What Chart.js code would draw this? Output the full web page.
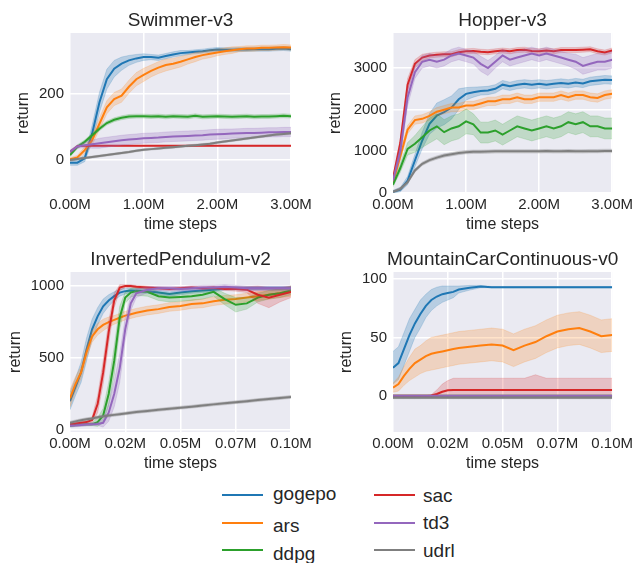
<!DOCTYPE html>
<html lang="en">
<head>
  <meta charset="UTF-8">
  <title>Learning curves</title>
  <script src="https://cdn.jsdelivr.net/npm/chart.js"></script>
  <style>
    body { margin: 0; background: #fff; width: 636px; height: 563px; position: relative; overflow: hidden;
           font-family: "Liberation Sans", Arial, sans-serif; color: #262626; }
    .plot { position: absolute; }
    .key-line { position: absolute; height: 2px; }
    .key-text { position: absolute; font-size: 19px; line-height: 19px; white-space: nowrap; }
  </style>
</head>
<body>
  <div class="plot" style="left:0;top:0"><canvas id="swimmer" width="318" height="240"></canvas></div>
  <div class="plot" style="left:318px;top:0"><canvas id="hopper" width="318" height="240"></canvas></div>
  <div class="plot" style="left:0;top:239px"><canvas id="pendulum" width="318" height="240"></canvas></div>
  <div class="plot" style="left:318px;top:239px"><canvas id="mountain" width="318" height="240"></canvas></div>
  <div id="legend"></div>

<script>
// x positions (million steps)
const stepsLong = [0, 0.1, 0.2, 0.3, 0.4, 0.5, 0.6, 0.7, 0.8, 0.9, 1.0, 1.1, 1.2, 1.3, 1.4, 1.5,
                   1.6, 1.7, 1.8, 1.9, 2.0, 2.1, 2.2, 2.3, 2.4, 2.5, 2.6, 2.7, 2.8, 2.9, 3.0];
const stepsShort = [0, 0.0025, 0.005, 0.0075, 0.01, 0.0125, 0.015, 0.0175, 0.02, 0.0225, 0.025, 0.0275,
                    0.03, 0.035, 0.04, 0.045, 0.05, 0.055, 0.06, 0.065, 0.07, 0.075, 0.08, 0.085, 0.09, 0.095, 0.1];

const longTicks = [0, 1, 2, 3];
const longTickLabels = ['0.00M', '1.00M', '2.00M', '3.00M'];
const shortTicks = [0, 0.025, 0.05, 0.075, 0.1];
const shortTickLabels = ['0.00M', '0.02M', '0.05M', '0.07M', '0.10M'];

const names = ['gogepo', 'ars', 'ddpg', 'sac', 'td3', 'udrl'];
const colors = ['#1f77b4', '#ff7f0e', '#2ca02c', '#d62728', '#9467bd', '#7f7f7f'];
const bandColors = ['rgba(31,119,180,0.25)', 'rgba(255,127,14,0.22)', 'rgba(44,160,44,0.22)',
                    'rgba(214,39,40,0.22)', 'rgba(148,103,189,0.25)', 'rgba(127,127,127,0.3)'];

// Swimmer-v3
const swimGogepo = [-8,-8,5,80,175,245,277,292,302,308,312,312,310,315,320,324,326,328,330,333,335,334,334,335,335,336,336,336,337,338,336];
const swimGogepoBand = [8,8,10,25,30,30,25,20,15,12,10,8,8,8,8,8,6,6,6,6,6,6,6,6,6,6,6,6,6,6,6];
const swimArs = [2,8,30,60,110,160,185,195,222,245,258,270,280,288,292,298,305,312,318,322,326,330,333,336,338,338,340,340,341,342,341];
const swimArsBand = [5,6,10,15,18,20,20,20,20,20,20,18,18,18,16,16,14,14,12,12,10,10,10,8,8,8,8,8,8,8,8];
const swimDdpg = [15,40,55,75,95,112,122,128,132,133,133,132,133,131,133,132,131,134,131,132,133,132,131,132,133,131,132,132,133,134,133];
const swimDdpgBand = [5,6,6,6,6,6,6,6,6,6,6,6,6,6,6,6,6,6,6,6,6,6,6,6,6,6,6,6,6,6,6];
const swimSac = [25,42,43,43,43,43,43,43,43,43,43,43,43,43,43,43,43,43,43,43,43,43,43,43,43,43,43,43,43,43,43];
const swimSacBand = [1,1,1,1,1,1,1,1,1,1,1,1,1,1,1,1,1,1,1,1,1,1,1,1,1,1,1,1,1,1,1];
const swimTd3 = [25,41,45,48,51,54,57,60,62,64,66,67,68,70,71,72,73,74,75,77,78,79,80,81,82,82,83,84,84,85,85];
const swimTd3Band = [5,5,8,12,15,15,15,15,15,15,15,15,15,15,15,15,15,15,15,15,15,15,14,14,14,14,14,14,14,14,14];
const swimUdrl = [0,3,6,9,12,15,18,21,24,28,31,33,35,37,39,41,43,45,47,49,53,56,59,62,65,68,71,74,77,79,81];
const swimUdrlBand = [3,3,3,3,3,3,3,3,3,3,3,3,3,3,3,3,3,3,3,3,3,3,3,3,3,3,3,3,3,3,3];

// Hopper-v3
const hopGogepo = [30,80,300,780,1260,1660,1860,1940,2050,2250,2380,2420,2450,2460,2500,2600,2560,2600,2620,2600,2620,2600,2620,2640,2620,2650,2630,2680,2700,2720,2710];
const hopGogepoBand = [30,50,100,150,200,250,300,300,280,250,150,120,100,100,100,100,100,100,100,100,100,100,100,100,100,100,100,100,100,100,100];
const hopArs = [250,880,1520,1750,1780,1850,1950,2000,2050,2050,2100,2100,2150,2200,2200,2250,2250,2300,2250,2250,2300,2300,2300,2350,2300,2350,2350,2300,2280,2350,2380];
const hopArsBand = [50,100,100,100,100,100,100,100,100,100,100,100,100,100,100,100,100,100,100,100,100,100,100,100,100,100,100,100,100,100,100];
const hopDdpg = [200,600,1060,1180,1340,1500,1600,1460,1550,1600,1720,1650,1450,1450,1500,1400,1500,1600,1550,1500,1550,1600,1550,1600,1700,1650,1700,1600,1600,1550,1550];
const hopDdpgBand = [50,100,150,200,250,300,300,300,300,300,300,250,250,250,250,250,250,250,250,250,250,250,250,250,250,250,250,250,250,250,250];
const hopSac = [350,1200,2600,3100,3250,3300,3320,3330,3330,3380,3400,3410,3390,3380,3400,3420,3400,3430,3440,3410,3400,3420,3400,3430,3430,3430,3440,3450,3400,3370,3420];
const hopSacBand = [50,100,150,100,80,60,60,60,60,60,60,60,60,60,60,60,60,60,60,60,60,60,60,60,60,60,60,60,60,60,60];
const hopTd3 = [300,1000,2300,2900,3150,3200,3150,3200,3300,3350,3300,3250,3100,3000,3150,3300,3200,3250,3300,3350,3300,3350,3300,3250,3200,3150,3050,3100,3150,3150,3200];
const hopTd3Band = [50,150,200,150,150,150,150,150,150,150,150,150,180,180,150,150,150,150,150,150,150,150,150,150,150,180,200,200,200,200,200];
const hopUdrl = [30,100,260,540,700,790,850,900,930,960,980,990,990,995,1000,1000,1000,1000,1000,1000,1000,1005,1000,1000,1005,1000,1000,1005,1005,1010,1010];
const hopUdrlBand = [30,40,40,40,40,40,40,40,40,40,40,40,40,40,40,40,40,40,40,40,40,40,40,40,40,40,40,40,40,40,40];

// InvertedPendulum-v2
const penGogepo = [200,300,400,560,700,790,860,900,930,955,965,970,968,965,955,945,955,965,970,975,985,985,985,985,985,985,985];
const penGogepoBand = [60,60,70,80,70,60,50,40,30,25,20,15,15,15,15,15,15,15,15,15,12,12,12,12,12,12,12];
const penArs = [220,320,400,540,650,700,730,750,765,780,795,805,815,830,840,855,862,875,880,895,905,910,920,930,940,950,960];
const penArsBand = [60,50,40,40,40,40,40,35,30,30,30,30,30,30,30,30,30,30,30,30,30,30,30,30,30,30,30];
const penDdpg = [30,35,38,40,40,55,100,250,480,780,920,955,965,960,930,920,925,930,940,960,910,870,880,920,940,950,970];
const penDdpgBand = [10,10,10,10,10,30,50,80,100,80,40,30,30,30,30,30,30,30,30,30,40,50,40,30,30,30,30];
const penSac = [40,45,50,55,70,180,400,680,900,990,1000,1000,995,990,985,980,985,990,985,990,980,980,975,940,920,940,960];
const penSacBand = [10,10,10,10,20,60,80,80,50,20,10,10,10,10,10,10,10,10,10,10,10,15,20,60,70,50,40];
const penTd3 = [30,32,35,38,40,42,50,120,250,430,700,880,950,975,985,985,980,985,990,990,995,990,985,985,985,985,985];
const penTd3Band = [10,10,10,10,10,10,30,60,90,100,80,50,30,20,15,15,15,15,15,15,15,15,15,15,15,15,15];
const penUdrl = [50,60,68,75,80,88,95,100,105,110,115,120,125,132,140,148,155,162,170,178,185,193,200,208,215,222,230];
const penUdrlBand = [10,10,10,10,10,10,10,10,10,10,10,10,10,10,10,10,10,10,10,10,10,10,10,10,10,10,10];

// MountainCarContinuous-v0
const carGogepo = [24,28,40,52,62,70,77,82,85,87,88,89,91,92.5,93.5,93,93,93,93,93,93,93,93,93,93,93,93];
const carGogepoBand = [14,14,14,14,12,12,10,9,8,7,6,5,3,2,1,0.5,0.5,0.5,0.5,0.5,0.5,0.5,0.5,0.5,0.5,0.5,0.5];
const carArs = [7,10,17,23,28,31,34,36,37,38,39,40,41,42,43,44,43,39,43,46,51,55,57,58,55,51,52];
const carArsBand = [4,6,8,10,12,12,13,14,14,14,14,14,14,14,14,14,14,14,14,14,14,14,14,14,14,14,14];
const carDdpg = [0,0,0,0,0,0,0,0,0,0,0,0,0,0,0,0,0,0,0,0,0,0,0,0,0,0,0];
const carDdpgBand = [0.3,0.3,0.3,0.3,0.3,0.3,0.3,0.3,0.3,0.3,0.3,0.3,0.3,0.3,0.3,0.3,0.3,0.3,0.3,0.3,0.3,0.3,0.3,0.3,0.3,0.3,0.3];
const carSac = [0,0,0,0,0,0,0,0.2,1.5,3.5,4.8,5,5,5,5,5,5,5,5,5,5,5,5,5,5,5,5];
const carSacLow = [0,0,0,0,0,0,0,-0.5,-0.5,-0.5,-0.5,-0.5,-0.5,-0.5,-0.5,-0.5,-0.5,-0.5,-0.5,-0.5,-0.5,-0.5,-0.5,-0.5,-0.5,-0.5,-0.5];
const carSacHigh = [0,0,0,0,0,0,0,1,5,10,13,15,15,15,15,15,15,15,15,18,15,15,15,15,15,15,15];
const carTd3 = [0,0,0,0,0,0,0,0,0,0,0,0,0,0,0,0,0,0,0,0,0,0,0,0,0,0,0];
const carTd3Band = [0.3,0.3,0.3,0.3,0.3,0.3,0.3,0.3,0.3,0.3,0.3,0.3,0.3,0.3,0.3,0.3,0.3,0.3,0.3,0.3,0.3,0.3,0.3,0.3,0.3,0.3,0.3];
const carUdrl = [-1.7,-1.7,-1.7,-1.7,-1.7,-1.7,-1.7,-1.7,-1.7,-1.7,-1.7,-1.7,-1.7,-1.7,-1.7,-1.7,-1.7,-1.7,-1.7,-1.7,-1.7,-1.7,-1.7,-1.7,-1.7,-1.7,-1.7];
const carUdrlBand = [0.8,0.8,0.8,0.8,0.8,0.8,0.8,0.8,0.8,0.8,0.8,0.8,0.8,0.8,0.8,0.8,0.8,0.8,0.8,0.8,0.8,0.8,0.8,0.8,0.8,0.8,0.8];

Chart.defaults.font.family = '"Liberation Sans", Arial, sans-serif';
Chart.defaults.color = '#262626';

// grey plot background like seaborn darkgrid, plus a title centred on the plot area
const plotBg = {
  id: 'plotBg',
  beforeDraw(chart) {
    const a = chart.chartArea;
    const ctx = chart.ctx;
    ctx.save();
    ctx.fillStyle = '#EAEAF2';
    ctx.fillRect(a.left, a.top, a.right - a.left, a.bottom - a.top);
    ctx.restore();
  },
  afterDraw(chart, args, opts) {
    const a = chart.chartArea;
    const ctx = chart.ctx;
    ctx.save();
    ctx.font = '19px "Liberation Sans", Arial, sans-serif';
    ctx.fillStyle = '#262626';
    ctx.textAlign = 'center';
    ctx.textBaseline = 'alphabetic';
    ctx.fillText(opts.text, (a.left + a.right) / 2, 26);
    ctx.restore();
  }
};

function buildDatasets(steps, series) {
  const list = [];
  series.forEach((s, k) => {
    const lo = s.low || s.mean.map((v, i) => v - s.band[i]);
    const hi = s.high || s.mean.map((v, i) => v + s.band[i]);
    list.push({ data: steps.map((x, i) => ({ x: x, y: lo[i] })), borderWidth: 0.8, borderColor: bandColors[k],
                pointRadius: 0, fill: false });
    list.push({ data: steps.map((x, i) => ({ x: x, y: hi[i] })), borderWidth: 0.8, borderColor: bandColors[k],
                pointRadius: 0, fill: '+1', backgroundColor: bandColors[k] });
    list.push({ data: steps.map((x, i) => ({ x: x, y: s.mean[i] })), borderColor: colors[k], borderWidth: 2,
                pointRadius: 0, fill: false });
  });
  // first series drawn first, so reverse (Chart.js paints index 0 last)
  return list.reverse();
}

function makeChart(id, title, steps, series, o) {
  new Chart(document.getElementById(id), {
    type: 'line',
    data: { datasets: buildDatasets(steps, series) },
    plugins: [plotBg],
    options: {
      responsive: false,
      animation: false,
      layout: { padding: { left: 0, right: o.padRight, top: 33, bottom: 0 } },
      plugins: {
        legend: { display: false },
        tooltip: { enabled: false },
        title: { display: false },
        plotBg: { text: title }
      },
      scales: {
        x: {
          type: 'linear', min: 0, max: o.xMax,
          afterBuildTicks: s => { s.ticks = o.xTicks.map(v => ({ value: v })); },
          afterFit: s => { s.height = 47; },
          ticks: { callback: (v, i) => o.xLabels[i], font: { size: 15 }, color: '#262626', padding: 3,
                   maxRotation: 0, autoSkip: false },
          grid: { color: '#ffffff', lineWidth: 1.5, drawTicks: false },
          border: { display: false },
          title: { display: true, text: 'time steps', font: { size: 16 }, color: '#262626',
                   padding: { top: 0, bottom: 6 } }
        },
        y: {
          min: o.yMin, max: o.yMax,
          afterBuildTicks: s => { s.ticks = o.yTicks.map(v => ({ value: v })); },
          afterFit: s => { s.width = o.yWidth; },
          ticks: { callback: v => String(v), font: { size: 15 }, color: '#262626', padding: 6 },
          grid: { color: '#ffffff', lineWidth: 1.5, drawTicks: false },
          border: { display: false },
          title: { display: true, text: 'return', font: { size: 16 }, color: '#262626',
                   padding: { top: o.yTitlePad, bottom: 0 } }
        }
      }
    }
  });
}

makeChart('swimmer', 'Swimmer-v3', stepsLong, [
  { mean: swimGogepo, band: swimGogepoBand }, { mean: swimArs, band: swimArsBand },
  { mean: swimDdpg, band: swimDdpgBand }, { mean: swimSac, band: swimSacBand },
  { mean: swimTd3, band: swimTd3Band }, { mean: swimUdrl, band: swimUdrlBand }
], { xMax: 3, xTicks: longTicks, xLabels: longTickLabels, yMin: -100, yMax: 385, yTicks: [0, 200],
     yWidth: 70, padRight: 27, yTitlePad: 14 });

makeChart('hopper', 'Hopper-v3', stepsLong, [
  { mean: hopGogepo, band: hopGogepoBand }, { mean: hopArs, band: hopArsBand },
  { mean: hopDdpg, band: hopDdpgBand }, { mean: hopSac, band: hopSacBand },
  { mean: hopTd3, band: hopTd3Band }, { mean: hopUdrl, band: hopUdrlBand }
], { xMax: 3, xTicks: longTicks, xLabels: longTickLabels, yMin: 0, yMax: 3840, yTicks: [0, 1000, 2000, 3000],
     yWidth: 75, padRight: 23, yTitlePad: 8 });

makeChart('pendulum', 'InvertedPendulum-v2', stepsShort, [
  { mean: penGogepo, band: penGogepoBand }, { mean: penArs, band: penArsBand },
  { mean: penDdpg, band: penDdpgBand }, { mean: penSac, band: penSacBand },
  { mean: penTd3, band: penTd3Band }, { mean: penUdrl, band: penUdrlBand }
], { xMax: 0.1, xTicks: shortTicks, xLabels: shortTickLabels, yMin: -14, yMax: 1098, yTicks: [0, 500, 1000],
     yWidth: 70, padRight: 27, yTitlePad: 6 });

makeChart('mountain', 'MountainCarContinuous-v0', stepsShort, [
  { mean: carGogepo, band: carGogepoBand }, { mean: carArs, band: carArsBand },
  { mean: carDdpg, band: carDdpgBand }, { mean: carSac, low: carSacLow, high: carSacHigh },
  { mean: carTd3, band: carTd3Band }, { mean: carUdrl, band: carUdrlBand }
], { xMax: 0.1, xTicks: shortTicks, xLabels: shortTickLabels, yMin: -31, yMax: 106, yTicks: [0, 50, 100],
     yWidth: 75, padRight: 23, yTitlePad: 19 });

// legend: two columns of three
const legend = document.getElementById('legend');
const textTops = [484, 516, 544, 486, 513, 541];
names.forEach((n, k) => {
  const col = Math.floor(k / 3), row = k % 3;
  const lineX = col === 0 ? 222 : 374;
  const textX = col === 0 ? 273 : 423;
  const y = 495 + row * 27.7;
  const line = document.createElement('div');
  line.className = 'key-line';
  line.style.cssText = `left:${lineX}px;top:${y - 1}px;width:41px;background:${colors[k]}`;
  const text = document.createElement('div');
  text.className = 'key-text';
  text.style.cssText = `left:${textX}px;top:${textTops[k]}px`;
  text.textContent = n;
  legend.appendChild(line);
  legend.appendChild(text);
});
</script>
</body>
</html>
